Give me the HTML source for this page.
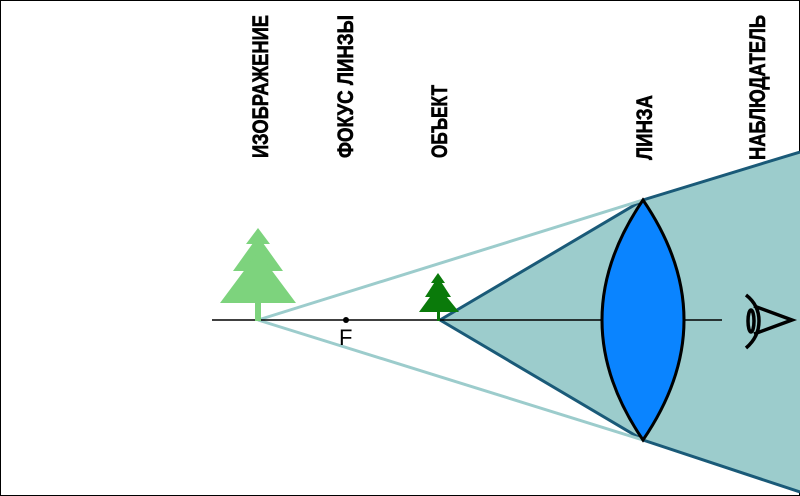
<!DOCTYPE html>
<html><head><meta charset="utf-8"><style>html,body{margin:0;padding:0;background:#fff}svg{display:block}</style></head>
<body>
<svg width="800" height="496" viewBox="0 0 800 496" xmlns="http://www.w3.org/2000/svg">
<rect x="0.5" y="0.5" width="799" height="495" fill="#fff" stroke="#000" stroke-width="1"/>
<g font-family="Liberation Sans, DejaVu Sans, sans-serif" font-weight="bold" font-size="22" fill="#000" stroke="#000" stroke-width="0.6">
<text transform="translate(268,158) rotate(-90)" textLength="143" lengthAdjust="spacingAndGlyphs">ИЗОБРАЖЕНИЕ</text>
<text transform="translate(353,158) rotate(-90)" textLength="143" lengthAdjust="spacingAndGlyphs">ФОКУС  ЛИНЗЫ</text>
<text transform="translate(447,158) rotate(-90)" textLength="73" lengthAdjust="spacingAndGlyphs">ОБЪЕКТ</text>
<text transform="translate(652,160) rotate(-90)" textLength="65" lengthAdjust="spacingAndGlyphs">ЛИНЗА</text>
<text transform="translate(765,160) rotate(-90)" textLength="145" lengthAdjust="spacingAndGlyphs">НАБЛЮДАТЕЛЬ</text>
</g>
<!-- cone -->
<polygon points="440,320 643,200 800,152 800,492 643,440" fill="#9ccccc"/>
<polyline points="440,320 643,200 800,152" fill="none" stroke="#1a5a78" stroke-width="3"/>
<polyline points="440,320 643,440 800,492" fill="none" stroke="#1a5a78" stroke-width="3"/>
<!-- rays -->
<line x1="258" y1="320" x2="643" y2="200" stroke="#9ccccc" stroke-width="3"/>
<line x1="258" y1="320" x2="643" y2="440" stroke="#9ccccc" stroke-width="3"/>
<!-- axis -->
<line x1="212" y1="320" x2="722" y2="320" stroke="#000" stroke-width="1.5"/>
<!-- lens -->
<path d="M643,200 Q561,320 643,440 Q725,320 643,200 Z" fill="#0a84ff" stroke="#000" stroke-width="3"/>
<circle cx="346" cy="320" r="3" fill="#000"/>
<text x="339" y="345" font-family="Liberation Sans, sans-serif" font-size="22" fill="#000">F</text>
<!-- image tree -->
<g fill="#7dd37d">
<rect x="255" y="298" width="6" height="23"/>
<polygon points="258,228 246,244 270,244"/>
<polygon points="258,236 233,271 283,271"/>
<polygon points="258,252 220,303 296,303"/>
</g>
<!-- object tree -->
<g fill="#0a7a0a">
<rect x="437" y="305" width="3" height="16"/>
<polygon points="438,273 431,283 445,283"/>
<polygon points="438,277 425,297 451,297"/>
<polygon points="438,286 419,312 459,312"/>
</g>
<!-- eye -->
<g fill="none" stroke="#000" stroke-width="3.5">
<path d="M746,295 Q759,305 759,321 Q759,337 746,348"/>
<path d="M754,306 L792,320 L754,334"/>
<ellipse cx="751" cy="321" rx="3" ry="11"/>
</g>
</svg>
</body></html>
